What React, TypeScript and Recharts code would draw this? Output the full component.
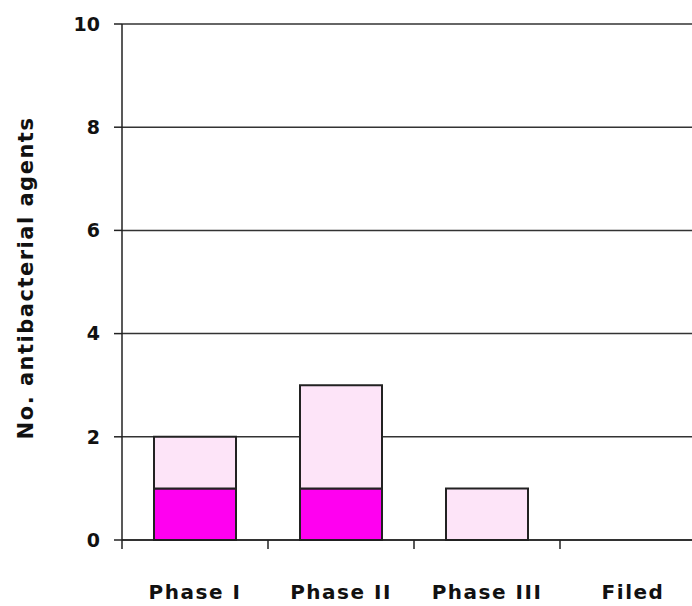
import React from "react";
import { BarChart, Bar, XAxis, YAxis, CartesianGrid } from "recharts";

const phases = ["Phase I", "Phase II", "Phase III", "Filed"];
const lowerValues = [1, 1, 0, 0];
const upperValues = [1, 2, 1, 0];
const yTicks = [0, 2, 4, 6, 8, 10];

const data = phases.map((name, i) => ({
  name,
  lower: lowerValues[i],
  upper: upperValues[i],
}));

const font = "'DejaVu Sans', sans-serif";
const ink = "#222";
const labelGap = 45;

// category label plus a tick mark on the left edge of each band
const PhaseTick = (props: any) => {
  const { x, y, payload } = props;
  const axisY = y - labelGap;
  const half = payload.offset || 0;
  return (
    <g>
      <line x1={x - half} x2={x - half} y1={axisY} y2={axisY + 9} stroke={ink} strokeWidth={1.5} />
      <text
        x={x}
        y={y}
        dy="0.71em"
        textAnchor="middle"
        fill="#111"
        fontSize={20}
        fontWeight="bold"
        fontFamily={font}
        letterSpacing={1.5}
      >
        {payload.value}
      </text>
    </g>
  );
};

const App: React.FC = () => {
  return (
    <div style={{ position: "absolute", left: 0, top: 0, width: 692, height: 606, overflow: "hidden", background: "#fff" }}>
      <BarChart
        width={712}
        height={606}
        data={data}
        margin={{ top: 24, right: 6, left: 0, bottom: 0 }}
        barSize={82}
      >
        <CartesianGrid vertical={false} stroke="#333" strokeWidth={1.5} />
        <XAxis
          dataKey="name"
          tickLine={false}
          tickSize={0}
          axisLine={{ stroke: ink, strokeWidth: 1.5 }}
          height={66}
          tickMargin={labelGap}
          tick={<PhaseTick />}
          interval={0}
        />
        <YAxis
          domain={[0, 10]}
          ticks={yTicks}
          width={122}
          axisLine={{ stroke: ink, strokeWidth: 1.5 }}
          tickLine={{ stroke: ink, strokeWidth: 1.5 }}
          tickSize={8}
          tickMargin={14}
          tick={{ fill: "#111", fontSize: 19, fontWeight: "bold", fontFamily: font }}
          label={{
            value: "No. antibacterial agents",
            angle: -90,
            position: "insideLeft",
            offset: 26,
            dy: -4,
            style: { textAnchor: "middle", fill: "#111", fontSize: 21, fontWeight: "bold", fontFamily: font, letterSpacing: 1.5 },
          }}
        />
        <Bar dataKey="lower" stackId="a" fill="#ff00f0" stroke={ink} strokeWidth={2} isAnimationActive={false} />
        <Bar dataKey="upper" stackId="a" fill="#fde4f8" stroke={ink} strokeWidth={2} isAnimationActive={false} />
      </BarChart>
    </div>
  );
};

export default App;
